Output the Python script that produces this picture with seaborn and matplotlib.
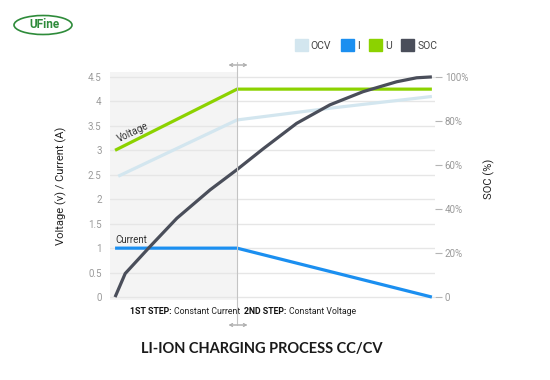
import matplotlib
matplotlib.use("Agg")
import matplotlib.pyplot as plt
import seaborn as sns
from matplotlib.patches import Patch, Ellipse
from matplotlib.lines import Line2D

# data (time in % of total charge time)
step_change = 38.5

time_u = [0, 38.5, 100]
voltage = [3.0, 4.25, 4.25]

time_ocv = [1, 38.5, 67.8, 100]
ocv = [2.47, 3.62, 3.86, 4.1]

time_i = [0, 38.5, 100]
current = [1.0, 1.0, 0.0]

time_soc = [0, 3.2, 11, 19.5, 30, 38.4, 46.8, 57.3, 67.8, 78.3, 88.9, 95.2, 100]
soc = [0, 10.7, 22.9, 35.8, 48.7, 57.8, 67.4, 78.9, 87.3, 93.3, 97.8, 99.6, 100]

left_ticks = [0, 0.5, 1, 1.5, 2, 2.5, 3, 3.5, 4, 4.5]
left_labels = ["0", "0.5", "1", "1.5", "2", "2.5", "3", "3.5", "4", "4.5"]
right_ticks = [0, 20, 40, 60, 80, 100]
right_labels = ["0", "20%", "40%", "60%", "80%", "100%"]

c_ocv = "#d3e6ef"
c_i = "#1b8ff0"
c_u = "#8cd200"
c_soc = "#4a4e5a"

sns.set_theme(style="white")
plt.rcParams["font.family"] = ["Roboto", "DejaVu Sans"]

fig = plt.figure(figsize=(5.5, 3.8), dpi=100)
ax = fig.add_axes([0.2, 0.2105, 0.591, 0.6])
ax2 = ax.twinx()

ymin, ymax = -0.06, 4.6
ax.set_xlim(-1.6, 101)
ax.set_ylim(ymin, ymax)
ax2.set_ylim(ymin / 4.5 * 100, ymax / 4.5 * 100)

# shaded first step and grid
ax.axvspan(-1.6, step_change, color="#f4f4f4", zorder=0, lw=0)
for t in left_ticks:
    ax.axhline(t, color="#e6e6e6", lw=1, zorder=1)

lw = 2.3
line_kw = dict(lw=lw, estimator=None, solid_joinstyle="round", solid_capstyle="butt")
sns.lineplot(x=time_ocv, y=ocv, ax=ax, color=c_ocv, **line_kw)
sns.lineplot(x=time_u, y=voltage, ax=ax, color=c_u, **line_kw)
sns.lineplot(x=time_i, y=current, ax=ax, color=c_i, **line_kw)
sns.lineplot(x=time_soc, y=soc, ax=ax2, color=c_soc, **line_kw)

for a in (ax, ax2):
    for s in a.spines.values():
        s.set_visible(False)
    a.set_xticks([])
    a.grid(False)

ax.set_yticks(left_ticks)
ax.set_yticklabels(left_labels)
ax.tick_params(axis="y", length=0, labelsize=7, labelcolor="#9a9a9a", pad=6)
ax2.set_yticks(right_ticks)
ax2.set_yticklabels(right_labels)
ax2.tick_params(axis="y", right=True, length=5, width=0.8, color="#b5b5b5",
                labelsize=7, labelcolor="#9a9a9a", pad=2)

ax.set_ylabel("Voltage (v) / Current (A)", fontsize=8, color="#222222")
ax.yaxis.set_label_coords(-0.132, 0.5)
ax2.set_ylabel("SOC (%)", fontsize=8, color="#222222")
ax2.yaxis.set_label_coords(1.15, 0.53)

ax.text(1.5, 3.13, "Voltage", fontsize=7, color="#333333", rotation=25,
        rotation_mode="anchor", ha="left", va="bottom")
ax.text(0, 1.06, "Current", fontsize=7, color="#333333", ha="left", va="bottom")

# divider line with arrows
xd = 237 / 550
fig.add_artist(Line2D([xd, xd], [1 - 62 / 380, 1 - 325 / 380], color="#c4c4c4", lw=0.8))
for yy in (65, 325):
    fig.add_artist(plt.annotate("", xy=(250 / 550, 1 - yy / 380), xytext=(226 / 550, 1 - yy / 380),
                                xycoords="figure fraction", textcoords="figure fraction",
                                arrowprops=dict(arrowstyle="<->", color="#b0b0b0", lw=0.7,
                                                mutation_scale=5)))

# step captions
ys = 1 - 312 / 380
fs = 6.3
t1 = fig.text(130 / 550, ys, "1ST STEP:", fontsize=fs, weight="bold", color="#111111", va="center")
ax.annotate("Constant Current", xy=(1, 0.5), xycoords=t1, xytext=(1.8, 0), textcoords="offset points",
            va="center", ha="left", fontsize=fs, color="#222222", annotation_clip=False)
t2 = fig.text(244 / 550, ys, "2ND STEP:", fontsize=fs, weight="bold", color="#111111", va="center")
ax.annotate("Constant Voltage", xy=(1, 0.5), xycoords=t2, xytext=(1.8, 0), textcoords="offset points",
            va="center", ha="left", fontsize=fs, color="#222222", annotation_clip=False)

fig.text(262 / 550, 1 - 349 / 380, "LI-ION CHARGING PROCESS CC/CV", fontsize=10.5,
         weight="bold", color="#1a1a1a", ha="center", va="center", family=["Lato", "DejaVu Sans"])

# legend
handles = [Patch(color=c_ocv), Patch(color=c_i), Patch(color=c_u), Patch(color=c_soc)]
fig.legend(handles, ["OCV", "I", "U", "SOC"], loc="center", bbox_to_anchor=(366 / 550, 1 - 45 / 380),
           ncol=4, frameon=False, fontsize=7.5, handlelength=1.25, handleheight=1.25,
           handletextpad=0.3, columnspacing=0.9, labelcolor="#444444")

# logo
fig.add_artist(Ellipse((43 / 550, 1 - 25 / 380), 58 / 550, 19 / 380, fill=False,
                       edgecolor="#2e8b3a", lw=1.2, transform=fig.transFigure))
fig.text(44 / 550, 1 - 25 / 380, "UFine", fontsize=8.5, weight="bold", color="#2e8b3a",
         ha="center", va="center")

plt.savefig("out.png", dpi=100)
plt.close()
